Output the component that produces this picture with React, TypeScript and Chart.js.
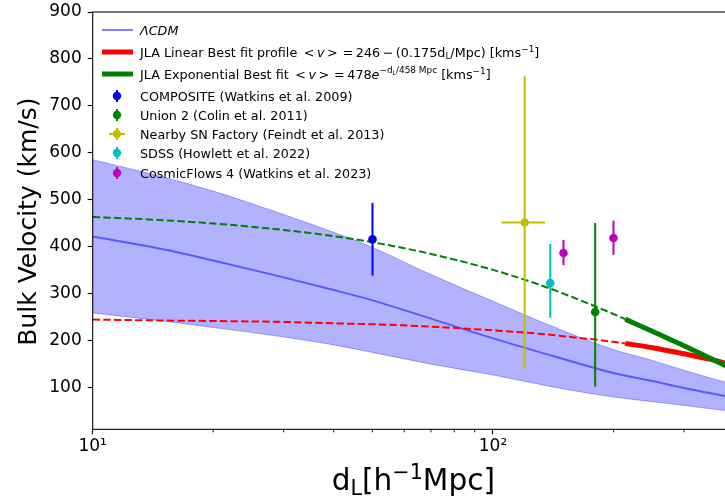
import React, { useEffect, useRef } from 'react';
import { Chart, registerables } from 'chart.js';
Chart.register(...registerables);

const FONT = '"DejaVu Sans", sans-serif';

// ΛCDM band and mean
const lcdmX = [10, 15, 20, 30, 40, 50, 70, 100, 150, 200, 250, 300, 380, 400];
const lcdmUpper = [585, 548, 518, 468, 430, 398, 340, 283, 220, 180, 157, 136, 111, 107];
const lcdmMid = [421, 394, 370, 334, 307, 285, 246, 204, 160, 130, 113, 98, 81, 78];
const lcdmLower = [258, 241, 227, 207, 190, 174, 149, 126, 96, 79, 69, 61, 50, 48];

// JLA fits (dashed extrapolation and solid fitted range)
const fitDashX = [10, 15, 20, 30, 40, 50, 70, 100, 130, 160, 190, 214];
const linDash = [244, 242, 241, 239, 236, 234, 229, 221, 214, 206, 199, 193];
const expDash = [463, 456, 449, 435, 422, 409, 384, 350, 319, 290, 264, 245];
const fitSolidX = [214, 250, 300, 350, 400];
const linSolid = [193, 184, 171, 159, 146];
const expSolid = [245, 219, 188, 161, 137];

// Measurements (value, lower error, upper error)
const compositeX = [50];
const compositeY = [415];
const compositeLo = [77];
const compositeHi = [78];
const unionX = [180];
const unionY = [260];
const unionLo = [159];
const unionHi = [190];
const snfX = [120];
const snfY = [451];
const snfLo = [312];
const snfHi = [313];
const snfXErr = [15];
const sdssX = [139];
const sdssY = [322];
const sdssLo = [74];
const sdssHi = [83];
const cf4X = [150, 200];
const cf4Y = [386, 418];
const cf4Lo = [26, 36];
const cf4Hi = [28, 37];

// Axes
const yTicks = [100, 200, 300, 400, 500, 600, 700, 800, 900];
const xMajorTicks = [10, 100];
const xMajorLabels = ['10\u00B9', '10\u00B2'];
const xMinorTicks = [20, 30, 40, 50, 60, 70, 80, 90, 200, 300];

const C = {
  band: 'rgba(0,0,255,0.3)',
  mid: 'rgba(0,0,255,0.5)',
  red: '#ff0000',
  green: '#008000',
  blue: '#0000ff',
  olive: '#bfbf00',
  cyan: '#00bfbf',
  magenta: '#bf00bf',
};

const pts = (xs: number[], ys: number[]) => xs.map((x, i) => ({ x, y: ys[i] }));

type Seg = { t?: string; it?: boolean; s?: number; dy?: number; sp?: number };
function segFont(g: Seg, base: number) {
  return `${g.it ? 'italic ' : ''}${base * (g.s ?? 1)}px ${FONT}`;
}
function richWidth(ctx: CanvasRenderingContext2D, segs: Seg[], base: number) {
  let w = 0;
  for (const g of segs) {
    if (g.sp !== undefined) { w += g.sp * base; continue; }
    ctx.font = segFont(g, base);
    w += ctx.measureText(g.t || '').width;
  }
  return w;
}
function drawRich(ctx: CanvasRenderingContext2D, x: number, y: number, segs: Seg[], base: number) {
  let cx = x;
  for (const g of segs) {
    if (g.sp !== undefined) { cx += g.sp * base; continue; }
    ctx.font = segFont(g, base);
    ctx.fillText(g.t || '', cx, y + (g.dy ?? 0));
    cx += ctx.measureText(g.t || '').width;
  }
}

const errorBarPlugin = {
  id: 'errbars',
  beforeDatasetDraw(chart: any, args: any) {
    const ds = chart.data.datasets[args.index];
    if (!ds.errLo) return;
    const { ctx, scales } = chart;
    const x = scales.x, y = scales.y;
    ctx.save();
    ctx.strokeStyle = ds.pointBackgroundColor;
    ctx.lineWidth = 2;
    ds.data.forEach((p: any, i: number) => {
      const px = x.getPixelForValue(p.x);
      const py = y.getPixelForValue(p.y);
      ctx.beginPath();
      ctx.moveTo(px, y.getPixelForValue(p.y - ds.errLo[i]));
      ctx.lineTo(px, y.getPixelForValue(p.y + ds.errHi[i]));
      ctx.stroke();
      if (ds.errX) {
        const ex = ds.errX[i];
        ctx.beginPath();
        ctx.moveTo(x.getPixelForValue(p.x - ex), py);
        ctx.lineTo(x.getPixelForValue(p.x + ex), py);
        ctx.stroke();
      }
    });
    ctx.restore();
  },
};

const SP = 0.195; // mathtext spacing around relations/operators (em)

const decorPlugin = {
  id: 'decor',
  afterDatasetsDraw(chart: any) {
    const { ctx, chartArea: a, scales } = chart;
    ctx.save();
    ctx.strokeStyle = '#000';
    ctx.lineWidth = 1.1;
    ctx.strokeRect(a.left, a.top, a.right - a.left, a.bottom - a.top);
    for (const v of xMinorTicks) {
      const px = scales.x.getPixelForValue(v);
      ctx.beginPath();
      ctx.lineWidth = 0.9;
      ctx.moveTo(px, a.bottom);
      ctx.lineTo(px, a.bottom + 3);
      ctx.stroke();
    }
    ctx.restore();
  },
  afterDraw(chart: any) {
    const { ctx, chartArea: a } = chart;
    ctx.save();
    ctx.fillStyle = '#000';
    ctx.textBaseline = 'alphabetic';
    ctx.textAlign = 'left';

    // Y title
    ctx.save();
    ctx.translate(35.7, (a.top + a.bottom) / 2 + 1);
    ctx.rotate(-Math.PI / 2);
    ctx.textAlign = 'center';
    ctx.font = `25px ${FONT}`;
    ctx.fillText('Bulk Velocity (km/s)', 0, 0);
    ctx.restore();

    // X title
    const xt: Seg[] = [
      { t: 'd' },
      { t: 'L', s: 0.7, dy: 5 },
      { t: '[h' },
      { t: '\u22121', s: 0.7, dy: -11.5 },
      { t: 'Mpc]' },
    ];
    const xfs = 29.6;
    const xw = richWidth(ctx, xt, xfs);
    drawRich(ctx, (a.left + a.right) / 2 - xw / 2, 490, xt, xfs);

    // Legend
    const hx0 = 102, hx1 = 133, mx = 117, tx = 140, fs = 12.75;
    const line = (y: number, color: string, w: number) => {
      ctx.beginPath();
      ctx.strokeStyle = color;
      ctx.lineWidth = w;
      ctx.moveTo(hx0, y);
      ctx.lineTo(hx1, y);
      ctx.stroke();
    };
    const marker = (y: number, color: string, hx?: boolean) => {
      ctx.strokeStyle = color;
      ctx.fillStyle = color;
      ctx.lineWidth = 2;
      ctx.beginPath();
      ctx.moveTo(mx, y - 6);
      ctx.lineTo(mx, y + 6);
      ctx.stroke();
      if (hx) {
        ctx.beginPath();
        ctx.moveTo(mx - 8, y);
        ctx.lineTo(mx + 8, y);
        ctx.stroke();
      }
      ctx.beginPath();
      ctx.arc(mx, y, 4.2, 0, Math.PI * 2);
      ctx.fill();
      ctx.fillStyle = '#000';
    };

    line(30, C.mid, 2);
    ctx.fillStyle = '#000';
    drawRich(ctx, tx, 34.7, [{ t: '\u039BCDM', it: true }], fs);

    line(52, C.red, 5);
    drawRich(ctx, tx, 56.7, [
      { t: 'JLA Linear Best fit profile ' },
      { sp: SP }, { t: '<' }, { sp: SP },
      { t: 'v', it: true },
      { sp: SP }, { t: '>' }, { sp: SP },
      { sp: SP }, { t: '=' }, { sp: SP },
      { t: '246' },
      { sp: SP }, { t: '\u2212' }, { sp: SP },
      { t: '(0.175d' },
      { t: 'L', s: 0.7, dy: 2.3 },
      { t: '/Mpc)' },
      { t: ' [kms' },
      { t: '\u22121', s: 0.7, dy: -5 },
      { t: ']' },
    ], fs);

    line(74, C.green, 5);
    drawRich(ctx, tx, 79.2, [
      { t: 'JLA Exponential Best fit ' },
      { sp: SP }, { t: '<' }, { sp: SP },
      { t: 'v', it: true },
      { sp: SP }, { t: '>' }, { sp: SP },
      { sp: SP }, { t: '=' }, { sp: SP },
      { t: '478' },
      { t: 'e', it: true },
      { t: '\u2212d', s: 0.7, dy: -5.8 },
      { t: 'L', s: 0.49, dy: -4.2 },
      { t: '/458 Mpc', s: 0.7, dy: -5.8 },
      { t: ' [kms' },
      { t: '\u22121', s: 0.7, dy: -5 },
      { t: ']' },
    ], fs);

    const rows: [number, string, string, boolean][] = [
      [96, C.blue, 'COMPOSITE (Watkins et al. 2009)', false],
      [115, C.green, 'Union 2 (Colin et al. 2011)', false],
      [134, C.olive, 'Nearby SN Factory (Feindt et al. 2013)', true],
      [153, C.cyan, 'SDSS (Howlett et al. 2022)', false],
      [173, C.magenta, 'CosmicFlows 4 (Watkins et al. 2023)', false],
    ];
    for (const [y, c, label, hx] of rows) {
      marker(y, c, hx);
      ctx.font = `${fs}px ${FONT}`;
      ctx.fillText(label, tx, y + 4.7);
    }
    ctx.restore();
  },
};

export default function App() {
  const ref = useRef<HTMLCanvasElement>(null);
  useEffect(() => {
    document.body.style.margin = '0';
    Chart.defaults.font.family = FONT;
    const lineDs = (data: any[], color: string, width: number, order: number, dash?: number[]) => ({
      data,
      borderColor: color,
      backgroundColor: color,
      borderWidth: width,
      borderDash: dash || [],
      pointRadius: 0,
      fill: false,
      order,
      cubicInterpolationMode: 'monotone',
      borderCapStyle: 'butt',
    });
    const pointDs = (xs: number[], ys: number[], lo: number[], hi: number[], color: string, errX?: number[]) => ({
      data: pts(xs, ys),
      showLine: false,
      pointRadius: 4.3,
      pointBorderWidth: 0,
      pointBackgroundColor: color,
      borderColor: color,
      backgroundColor: color,
      errLo: lo,
      errHi: hi,
      errX,
      order: 1,
    });
    const chart = new Chart(ref.current!, {
      type: 'line',
      data: {
        datasets: [
          { ...lineDs(pts(lcdmX, lcdmLower), C.band, 1, 20) },
          { ...lineDs(pts(lcdmX, lcdmUpper), C.band, 1, 19), fill: 0, backgroundColor: C.band },
          lineDs(pts(lcdmX, lcdmMid), C.mid, 2, 18),
          lineDs(pts(fitDashX, linDash), C.red, 2, 17, [7.4, 3.2]),
          lineDs(pts(fitDashX, expDash), C.green, 2, 16, [7.4, 3.2]),
          lineDs(pts(fitSolidX, linSolid), C.red, 5, 15),
          lineDs(pts(fitSolidX, expSolid), C.green, 5, 14),
          pointDs(compositeX, compositeY, compositeLo, compositeHi, C.blue),
          pointDs(unionX, unionY, unionLo, unionHi, C.green),
          pointDs(snfX, snfY, snfLo, snfHi, C.olive, snfXErr),
          pointDs(sdssX, sdssY, sdssLo, sdssHi, C.cyan),
          pointDs(cf4X, cf4Y, cf4Lo, cf4Hi, C.magenta),
        ] as any,
      },
      options: {
        responsive: false,
        animation: false,
        devicePixelRatio: 1,
        events: [],
        layout: { autoPadding: false, padding: { top: 12, left: 0, right: 0, bottom: 0 } },
        plugins: { legend: { display: false }, tooltip: { enabled: false } },
        scales: {
          x: {
            type: 'logarithmic',
            min: 10,
            max: 400,
            afterBuildTicks: (s: any) => {
              s.ticks = xMajorTicks.map((v) => ({ value: v, major: true }));
            },
            afterFit: (s: any) => {
              s.height = 501 - 429.3;
              s.paddingLeft = 0; s.paddingRight = 0; s.paddingTop = 0; s.paddingBottom = 0;
            },
            grid: { display: true, drawOnChartArea: false, drawTicks: true, tickLength: 5, tickWidth: 1.1, tickColor: '#000' },
            border: { display: false },
            ticks: {
              autoSkip: false, maxRotation: 0, minRotation: 0, padding: 2, color: '#000',
              font: { family: FONT, size: 17 },
              callback: (v: any) => {
                const i = xMajorTicks.indexOf(Number(v));
                return i >= 0 ? xMajorLabels[i] : '';
              },
            },
          },
          y: {
            type: 'linear',
            min: 10,
            max: 900,
            afterBuildTicks: (s: any) => {
              s.ticks = yTicks.map((v) => ({ value: v }));
            },
            afterFit: (s: any) => {
              s.width = 92.7;
              s.paddingLeft = 0; s.paddingRight = 0; s.paddingTop = 0; s.paddingBottom = 0;
            },
            grid: { display: true, drawOnChartArea: false, drawTicks: true, tickLength: 5, tickWidth: 1.1, tickColor: '#000' },
            border: { display: false },
            ticks: { padding: 6, color: '#000', font: { family: FONT, size: 17 } },
          },
        },
      } as any,
      plugins: [errorBarPlugin, decorPlugin],
    });
    return () => chart.destroy();
  }, []);
  return (
    <div style={{ width: 725, height: 501, overflow: 'hidden', position: 'relative' }}>
      <canvas ref={ref} width={734} height={501} style={{ display: 'block' }} />
    </div>
  );
}
